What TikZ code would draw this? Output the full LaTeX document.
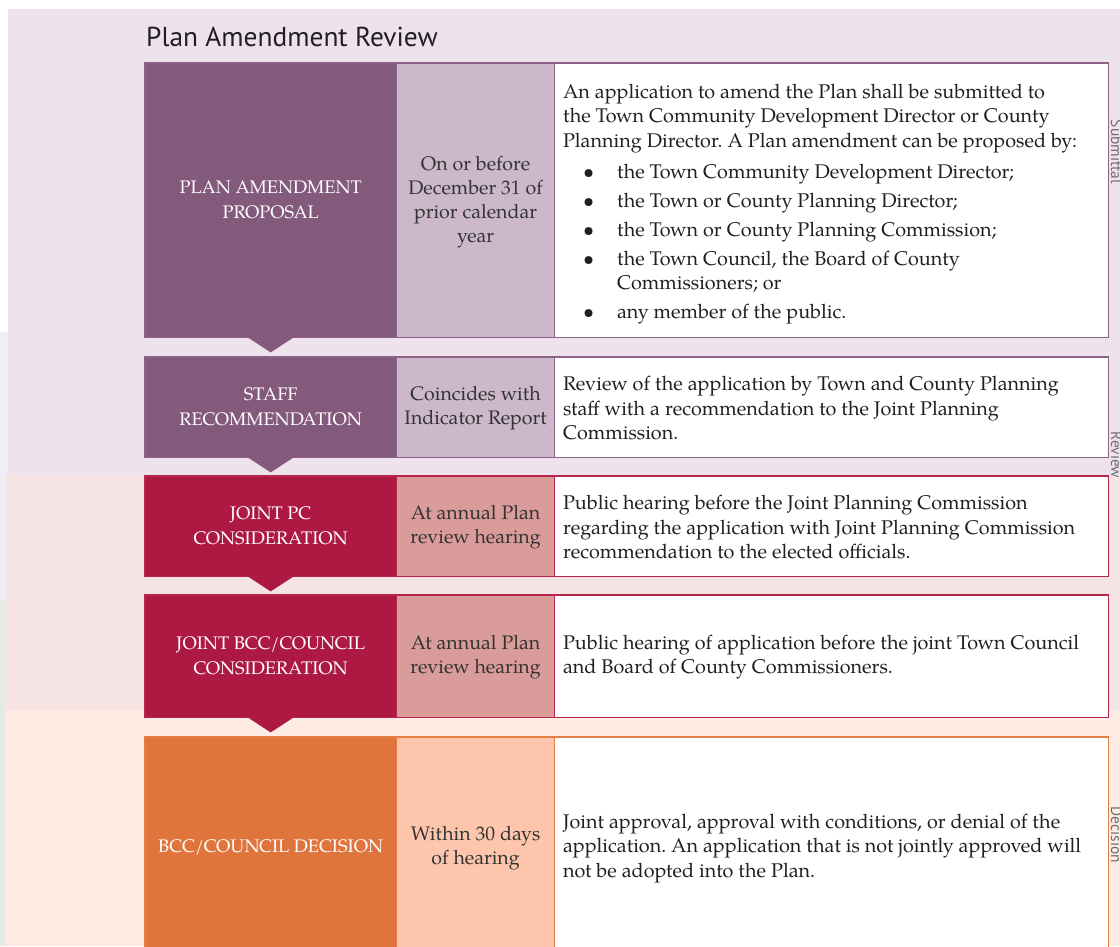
\documentclass[tikz,border=0pt]{standalone}
\usepackage{fontspec}
\setmainfont{TeX Gyre Pagella}
\newfontfamily\sansf{PT Sans}
\usetikzlibrary{calc}
\frenchspacing
\definecolor{bandP}{HTML}{EEE3EC}
\definecolor{bandR}{HTML}{F6E4E4}
\definecolor{bandO}{HTML}{FEECE4}
\definecolor{edgeA}{HTML}{EFEEF4}
\definecolor{edgeB}{HTML}{E6EAE6}
\definecolor{pD}{HTML}{845A7C}
\definecolor{pL}{HTML}{CDB8CB}
\definecolor{pB}{HTML}{8C6286}
\definecolor{rD}{HTML}{AE1944}
\definecolor{rL}{HTML}{DA9B9B}
\definecolor{rB}{HTML}{B5264D}
\definecolor{oD}{HTML}{E0743D}
\definecolor{oL}{HTML}{FDC5AC}
\definecolor{oB}{HTML}{E37E45}
\definecolor{txt}{HTML}{231F20}
\definecolor{txtB}{HTML}{333333}
\definecolor{side}{HTML}{6E6E6E}
\newcommand\bul{\makebox[54pt][l]{\hspace*{20pt}\textbullet}}
\begin{document}
\begin{tikzpicture}[x=1pt,y=-1pt,
  cellbox/.style={rectangle, inner sep=0pt, anchor=north west, draw=none},
  lab/.style={text=white, font=\fontsize{18.2}{25}\selectfont\frenchspacing, align=center, inner sep=0pt},
  when/.style={text=txtB, font=\fontsize{19.6}{24}\selectfont\frenchspacing, align=center, inner sep=0pt},
  desc/.style={text=txt, font=\fontsize{19.8}{24.5}\selectfont\frenchspacing, align=left, inner sep=0pt, anchor=west},
  sidelab/.style={text=side, font=\sansf\fontsize{15.5}{18}\selectfont, rotate=-90, anchor=base, inner sep=0pt},
  outline/.style={line width=1.3pt}]
\useasboundingbox (0,0) rectangle (1120,946);
% background bands
\fill[white] (0,0) rectangle (1120,946);
\fill[edgeA] (0,332) rectangle (8,946);
\fill[edgeB] (0,600) rectangle (6,946);
\fill[bandP] (8,9) rectangle (1120,475);
\fill[bandR] (6,475) rectangle (1120,710);
\fill[bandO] (6,710) rectangle (1120,946);
% title
\node[anchor=base west, inner sep=0pt, text=txt, font=\sansf\fontsize{27.4}{32}\selectfont] (title) at (146,46) {Plan Amendment Review};
% ---------- row 1
\node[cellbox, fill=pD, minimum width=251pt, minimum height=274pt] (p1) at (145,63) {};
\node[cellbox, fill=pL, minimum width=158pt, minimum height=274pt] (t1) at (p1.north east) {};
\node[cellbox, fill=white, minimum width=553pt, minimum height=274pt] (d1) at (t1.north east) {};
\draw[pB, outline] (p1.north west) rectangle (d1.south east);
\draw[pB, outline] (t1.north west) -- (t1.south west) (d1.north west) -- (d1.south west);
\node[lab] (p1t) at (p1.center) {PLAN AMENDMENT\\PROPOSAL};
\node[when] (t1t) at ($(t1.center)+(0,2)$) {On or before\\December 31 of\\prior calendar\\year};
\node[desc] (d1t) at ($(d1.west)+(8,4)$) {An application to amend the Plan shall be submitted to\\
the Town Community Development Director or County\\
Planning Director. A Plan amendment can be proposed by:\\[6.5pt]
\bul the Town Community Development Director;\\[4.5pt]
\bul the Town or County Planning Director;\\[4.5pt]
\bul the Town or County Planning Commission;\\[4.5pt]
\bul the Town Council, the Board of County\\
\hspace*{54pt}Commissioners; or\\[4.5pt]
\bul any member of the public.};
% ---------- row 2
\node[cellbox, fill=pD, minimum width=251pt, minimum height=100pt] (p2) at (145,357) {};
\node[cellbox, fill=pL, minimum width=158pt, minimum height=100pt] (t2) at (p2.north east) {};
\node[cellbox, fill=white, minimum width=553pt, minimum height=100pt] (d2) at (t2.north east) {};
\draw[pB, outline] (p2.north west) rectangle (d2.south east);
\draw[pB, outline] (t2.north west) -- (t2.south west) (d2.north west) -- (d2.south west);
\node[lab] (p2t) at (p2.center) {STAFF\\RECOMMENDATION};
\node[when] (t2t) at ($(t2.center)+(0,1)$) {Coincides with\\Indicator Report};
\node[desc] (d2t) at ($(d2.west)+(8,1)$) {Review of the application by Town and County Planning\\
staff with a recommendation to the Joint Planning\\
Commission.};
% ---------- row 3
\node[cellbox, fill=rD, minimum width=251pt, minimum height=100pt] (p3) at (145,476) {};
\node[cellbox, fill=rL, minimum width=158pt, minimum height=100pt] (t3) at (p3.north east) {};
\node[cellbox, fill=white, minimum width=553pt, minimum height=100pt] (d3) at (t3.north east) {};
\draw[rB, outline] (p3.north west) rectangle (d3.south east);
\draw[rB, outline] (t3.north west) -- (t3.south west) (d3.north west) -- (d3.south west);
\node[lab] (p3t) at (p3.center) {JOINT PC\\CONSIDERATION};
\node[when] (t3t) at ($(t3.center)+(0,1)$) {At annual Plan\\review hearing};
\node[desc] (d3t) at ($(d3.west)+(8,1)$) {Public hearing before the Joint Planning Commission\\
regarding the application with Joint Planning Commission\\
recommendation to the elected officials.};
% ---------- row 4
\node[cellbox, fill=rD, minimum width=251pt, minimum height=122pt] (p4) at (145,595) {};
\node[cellbox, fill=rL, minimum width=158pt, minimum height=122pt] (t4) at (p4.north east) {};
\node[cellbox, fill=white, minimum width=553pt, minimum height=122pt] (d4) at (t4.north east) {};
\draw[rB, outline] (p4.north west) rectangle (d4.south east);
\draw[rB, outline] (t4.north west) -- (t4.south west) (d4.north west) -- (d4.south west);
\node[lab] (p4t) at (p4.center) {JOINT BCC/COUNCIL\\CONSIDERATION};
\node[when] (t4t) at ($(t4.center)+(0,1)$) {At annual Plan\\review hearing};
\node[desc] (d4t) at ($(d4.west)+(8,1)$) {Public hearing of application before the joint Town Council\\
and Board of County Commissioners.};
% ---------- row 5
\node[cellbox, fill=oD, minimum width=251pt, minimum height=220pt] (p5) at (145,737) {};
\node[cellbox, fill=oL, minimum width=158pt, minimum height=220pt] (t5) at (p5.north east) {};
\node[cellbox, fill=white, minimum width=553pt, minimum height=220pt] (d5) at (t5.north east) {};
\draw[oB, outline] (p5.north west) rectangle (d5.south east);
\draw[oB, outline] (t5.north west) -- (t5.south west) (d5.north west) -- (d5.south west);
\node[lab] (p5t) at (p5.center) {BCC/COUNCIL DECISION};
\node[when] (t5t) at ($(t5.center)+(0,1)$) {Within 30 days\\of hearing};
\node[desc] (d5t) at ($(d5.west)+(8,1)$) {Joint approval, approval with conditions, or denial of the\\
application. An application that is not jointly approved will\\
not be adopted into the Plan.};
% ---------- step arrows
\foreach \a/\c in {p1/pD, p2/pD, p3/rD, p4/rD}{
  \fill[\c] ($(\a.south)+(-23,0)$) -- ($(\a.south)+(23,0)$) -- ($(\a.south)+(0,15)$) -- cycle;
}
% ---------- side labels
\node[sidelab] (s1) at (1111,152) {Submittal};
\node[sidelab] (s2) at (1111,455) {Review};
\node[sidelab] (s3) at (1111,835) {Decision};
\end{tikzpicture}
\end{document}
